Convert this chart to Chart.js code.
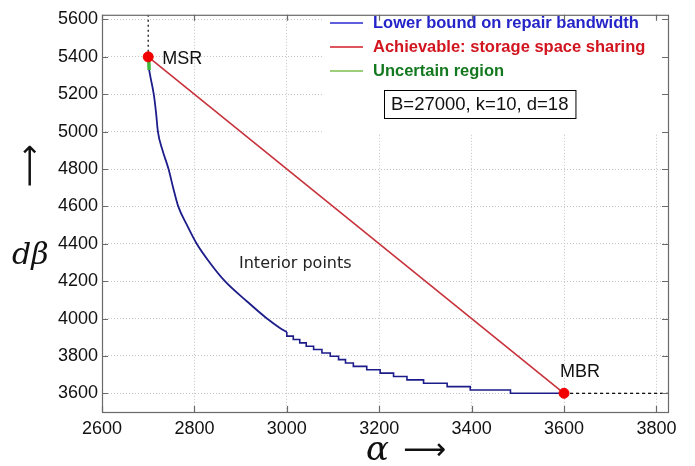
<!DOCTYPE html>
<html>
<head>
<meta charset="utf-8">
<script src="https://cdn.jsdelivr.net/npm/chart.js@4.4.1/dist/chart.umd.min.js"></script>
<style>
  body { margin: 0; background: #fff; }
  canvas { display: block; }
</style>
</head>
<body>
<canvas id="myChart" width="695" height="466"></canvas>
<script>
// tick labels
const xTicks = [2600, 2800, 3000, 3200, 3400, 3600, 3800];
const yTicks = [3600, 3800, 4000, 4200, 4400, 4600, 4800, 5000, 5200, 5400, 5600];

// lower bound, smooth part (alpha, d*beta)
const lowerAlpha = [2702, 2705, 2712, 2717, 2721, 2731, 2744, 2754, 2765, 2784, 2805, 2833, 2866, 2910, 2957, 2985, 3000];
const lowerDBeta = [5330, 5290, 5200, 5100, 5000, 4900, 4800, 4700, 4600, 4500, 4400, 4300, 4200, 4100, 4000, 3950, 3928];

// lower bound, staircase part (start of each level)
const stepAlpha = [3000, 3014, 3028, 3042, 3058, 3076, 3094, 3112, 3127, 3144, 3173, 3202, 3231, 3260, 3296, 3347, 3397, 3484, 3600];
const stepDBeta = [3928, 3906, 3888, 3870, 3852, 3834, 3816, 3798, 3780, 3762, 3744, 3726, 3708, 3690, 3672, 3654, 3636, 3618, 3600];

// space sharing between MSR and MBR
const shareAlpha = [2700, 3600];
const shareDBeta = [5400, 3600];

// uncertain region
const uncertainAlpha = [2701, 2702];
const uncertainDBeta = [5400, 5330];

// operating points
const pointNames = ["MSR", "MBR"];
const pointAlpha = [2700, 3600];
const pointDBeta = [5400, 3600];

const legendNames = ["Lower bound on repair bandwidth", "Achievable: storage space sharing", "Uncertain region"];
const paramText = "B=27000, k=10, d=18";

const xMin = 2600, xMax = 3825, yMin = 3500, yMax = 5625;

function zip(a, b) {
  return a.map((v, i) => ({ x: v, y: b[i] }));
}

const BLUE = "#1c1c8a";
const RED = "#c8323c";
const GREEN = "#3cb83c";

const extras = {
  id: "extras",
  afterDraw(chart) {
    const ctx = chart.ctx;
    const xs = chart.scales.x, ys = chart.scales.y;
    const a = chart.chartArea;
    ctx.save();

    // legend background
    ctx.fillStyle = "#fff";
    ctx.fillRect(322, a.top + 1, a.right - 323, 118);

    // legend entries
    const lineCols = ["#2a2ad2", "#d21e28", "#7dbe50"];
    const textCols = ["#2424c8", "#d2141e", "#147820"];
    ctx.font = "bold 16.5px 'Liberation Sans', Arial, sans-serif";
    ctx.textBaseline = "middle";
    ctx.textAlign = "left";
    legendNames.forEach((name, i) => {
      const yy = 23 + i * 24;
      ctx.strokeStyle = lineCols[i];
      ctx.lineWidth = 1.5;
      ctx.beginPath();
      ctx.moveTo(330, yy);
      ctx.lineTo(363, yy);
      ctx.stroke();
      ctx.fillStyle = textCols[i];
      ctx.fillText(name, 373, yy);
    });

    // parameter box
    ctx.font = "18.5px 'Liberation Sans', Arial, sans-serif";
    const tw = ctx.measureText(paramText).width;
    const bx = 384, by = 90, bw = tw + 14, bh = 28;
    ctx.fillStyle = "#fff";
    ctx.fillRect(bx, by, bw, bh);
    ctx.strokeStyle = "#000";
    ctx.lineWidth = 1;
    ctx.strokeRect(bx + 0.5, by + 0.5, bw, bh);
    ctx.fillStyle = "#111";
    ctx.fillText(paramText, bx + 7, by + bh / 2 + 1);

    // point labels
    ctx.font = "18px 'Liberation Sans', Arial, sans-serif";
    ctx.fillStyle = "#111";
    ctx.fillText(pointNames[0], xs.getPixelForValue(pointAlpha[0]) + 14, ys.getPixelForValue(pointDBeta[0]) + 2);
    ctx.fillText(pointNames[1], xs.getPixelForValue(pointAlpha[1]) - 4, ys.getPixelForValue(pointDBeta[1]) - 21);

    ctx.font = "16px 'DejaVu Sans', sans-serif";
    ctx.fillStyle = "#222";
    ctx.fillText("Interior points", 239, 264);

    // axis titles
    ctx.fillStyle = "#111";
    ctx.font = "italic 34px 'DejaVu Serif', 'Liberation Serif', serif";
    ctx.textBaseline = "alphabetic";
    ctx.fillText("\u03b1", 366, 460);
    ctx.font = "30px 'DejaVu Sans', sans-serif";
    ctx.textBaseline = "middle";
    ctx.fillText("\u27f6", 403, 451);

    ctx.textBaseline = "alphabetic";
    ctx.font = "italic 30px 'DejaVu Serif', 'Liberation Serif', serif";
    ctx.fillText("d\u03b2", 12, 264);
    ctx.save();
    ctx.translate(31, 166);
    ctx.rotate(-Math.PI / 2);
    ctx.textBaseline = "middle";
    ctx.textAlign = "center";
    ctx.font = "30px 'DejaVu Sans', sans-serif";
    ctx.fillText("\u27f6", 0, 0);
    ctx.restore();

    // plot box with inward ticks
    ctx.strokeStyle = "#6a6a6a";
    ctx.lineWidth = 1.2;
    ctx.strokeRect(a.left + 0.5, a.top + 0.5, a.right - a.left, a.bottom - a.top);
    ctx.beginPath();
    xTicks.forEach(v => {
      const px = Math.round(xs.getPixelForValue(v)) + 0.5;
      ctx.moveTo(px, a.bottom); ctx.lineTo(px, a.bottom - 6);
      ctx.moveTo(px, a.top); ctx.lineTo(px, a.top + 6);
    });
    yTicks.forEach(v => {
      const py = Math.round(ys.getPixelForValue(v)) + 0.5;
      ctx.moveTo(a.left, py); ctx.lineTo(a.left + 6, py);
      ctx.moveTo(a.right, py); ctx.lineTo(a.right - 6, py);
    });
    ctx.stroke();
    ctx.restore();
  }
};

const tickFont = { family: "'Liberation Sans', Arial, sans-serif", size: 18 };

new Chart(document.getElementById("myChart"), {
  type: "scatter",
  data: {
    datasets: [
      {
        label: "points",
        data: zip(pointAlpha, pointDBeta),
        showLine: false, pointRadius: 5, pointBackgroundColor: "#f00000", pointBorderColor: "#f00000"
      },
      {
        label: legendNames[2],
        data: zip(uncertainAlpha, uncertainDBeta),
        showLine: true, borderColor: GREEN, borderWidth: 3.5, pointRadius: 0
      },
      {
        label: legendNames[0],
        data: zip(lowerAlpha, lowerDBeta),
        showLine: true, borderColor: BLUE, borderWidth: 1.8, pointRadius: 0, cubicInterpolationMode: "monotone"
      },
      {
        label: legendNames[0] + " steps",
        data: zip(stepAlpha, stepDBeta),
        showLine: true, stepped: "after", borderColor: BLUE, borderWidth: 1.6, pointRadius: 0
      },
      {
        label: legendNames[1],
        data: zip(shareAlpha, shareDBeta),
        showLine: true, borderColor: RED, borderWidth: 1.6, pointRadius: 0
      },
      {
        label: "guide msr",
        data: [{ x: 2700, y: yMax }, { x: 2700, y: 5400 }],
        showLine: true, borderColor: "#000", borderWidth: 1.2, borderDash: [2, 3], pointRadius: 0
      },
      {
        label: "guide mbr",
        data: [{ x: 3600, y: 3600 }, { x: xMax, y: 3600 }],
        showLine: true, borderColor: "#000", borderWidth: 1.2, borderDash: [3, 3], pointRadius: 0
      }
    ]
  },
  options: {
    responsive: false,
    animation: false,
    devicePixelRatio: 1,
    layout: { padding: { left: 0, top: 5, right: 27, bottom: 0 } },
    plugins: { legend: { display: false }, tooltip: { enabled: false } },
    scales: {
      x: {
        type: "linear", min: xMin, max: xMax,
        afterBuildTicks: (s) => { s.ticks = xTicks.map(v => ({ value: v })); },
        afterFit: (s) => { s.height = 54; },
        grid: { color: "#c4c4c4", lineWidth: 1, drawTicks: false },
        border: { display: false, dash: [1, 2] },
        ticks: { color: "#111", font: tickFont, padding: 6, maxRotation: 0, callback: (v) => String(v) }
      },
      y: {
        type: "linear", min: yMin, max: yMax,
        afterBuildTicks: (s) => { s.ticks = yTicks.map(v => ({ value: v })); },
        afterFit: (s) => { s.width = 102; },
        grid: { color: "#c4c4c4", lineWidth: 1, drawTicks: false },
        border: { display: false, dash: [1, 2] },
        ticks: { color: "#111", font: tickFont, padding: 4, callback: (v) => String(v) }
      }
    }
  },
  plugins: [extras]
});
</script>
</body>
</html>
